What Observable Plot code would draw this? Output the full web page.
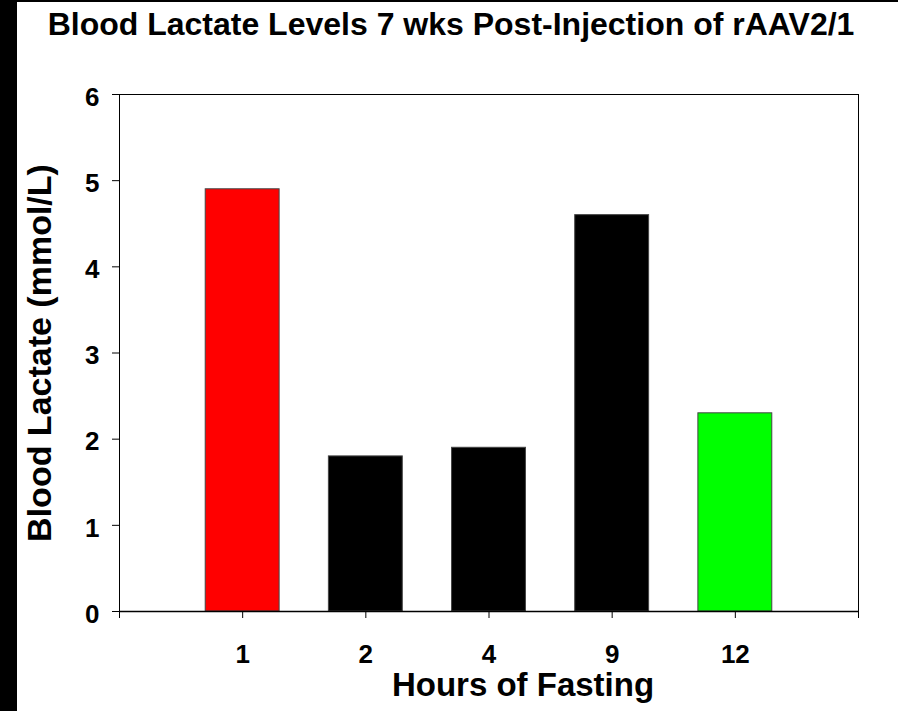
<!DOCTYPE html>
<html>
<head>
<meta charset="utf-8">
<script src="https://cdn.jsdelivr.net/npm/d3@7"></script>
<script src="https://cdn.jsdelivr.net/npm/@observablehq/plot@0.6"></script>
<style>
  html, body { margin: 0; padding: 0; background: #fff; }
  #wrap { position: relative; width: 898px; height: 711px; overflow: hidden; }
  #edgeL { position: absolute; left: 0; top: 0; width: 17px; height: 711px; background: #000; }
  #edgeT { position: absolute; left: 0; top: 0; width: 898px; height: 2px; background: #000; }
  #chart svg { display: block; font-family: "Liberation Sans", Arial, sans-serif; }
</style>
</head>
<body>
<div id="wrap">
  <div id="chart"></div>
  <div id="edgeL"></div>
  <div id="edgeT"></div>
</div>
<script>
const titleText = "Blood Lactate Levels 7 wks Post-Injection of rAAV2/1";
const xLabel = "Hours of Fasting";
const yLabel = "Blood Lactate (mmol/L)";
const hours = ["1", "2", "4", "9", "12"];
const lactate = [4.9, 1.8, 1.9, 4.6, 2.3];
const barColors = ["#ff0000", "#000000", "#000000", "#000000", "#00ff00"];
const yTicks = [0, 1, 2, 3, 4, 5, 6];

const data = hours.map((h, i) => ({hour: h, pos: i + 1, value: lactate[i], color: barColors[i]}));
const xTickPositions = d3.range(0, hours.length + 2);
const font = "'Liberation Sans', Arial, sans-serif";

const chart = Plot.plot({
  width: 898,
  height: 711,
  marginLeft: 119,
  marginRight: 40,
  marginTop: 94,
  marginBottom: 100,
  style: {fontFamily: font, background: "#fff"},
  x: {domain: [0, hours.length + 1]},
  y: {domain: [0, 6]},
  marks: [
    Plot.rectY(data, {
      x1: d => d.pos - 0.3,
      x2: d => d.pos + 0.3,
      y1: 0,
      y2: "value",
      fill: "color",
      stroke: "#444",
      strokeWidth: 1
    }),
    Plot.frame({stroke: "#000", strokeWidth: 1}),
    Plot.ruleY([0], {stroke: "#000", strokeWidth: 1.5}),
    Plot.axisX({
      ticks: xTickPositions,
      tickSize: 7,
      tickFormat: () => "",
      label: null,
      stroke: "#000"
    }),
    Plot.axisY({
      ticks: yTicks,
      tickSize: 7,
      tickFormat: () => "",
      label: null,
      stroke: "#000"
    }),
    Plot.text(data, {
      x: "pos",
      text: "hour",
      frameAnchor: "bottom",
      textAnchor: "middle",
      lineAnchor: "middle",
      dy: 43,
      fontSize: 26,
      fontWeight: "bold",
      fill: "#000"
    }),
    Plot.text(yTicks, {
      y: d => d,
      text: d => String(d),
      frameAnchor: "left",
      textAnchor: "end",
      lineAnchor: "middle",
      dx: -20,
      dy: 3,
      fontSize: 26,
      fontWeight: "bold",
      fill: "#000"
    }),
    Plot.text([titleText], {
      text: d => d,
      frameAnchor: "top",
      textAnchor: "middle",
      lineAnchor: "middle",
      dx: -38,
      dy: -70,
      fontSize: 32,
      fontWeight: "bold",
      fill: "#000"
    }),
    Plot.text([xLabel], {
      text: d => d,
      frameAnchor: "bottom",
      textAnchor: "middle",
      lineAnchor: "middle",
      dx: 34,
      dy: 74,
      fontSize: 33,
      fontWeight: "bold",
      fill: "#000"
    }),
    Plot.text([yLabel], {
      text: d => d,
      frameAnchor: "left",
      textAnchor: "middle",
      lineAnchor: "middle",
      rotate: -90,
      dx: -79,
      fontSize: 34,
      fontWeight: "bold",
      fill: "#000"
    })
  ]
});
document.getElementById("chart").appendChild(chart);
</script>
</body>
</html>
